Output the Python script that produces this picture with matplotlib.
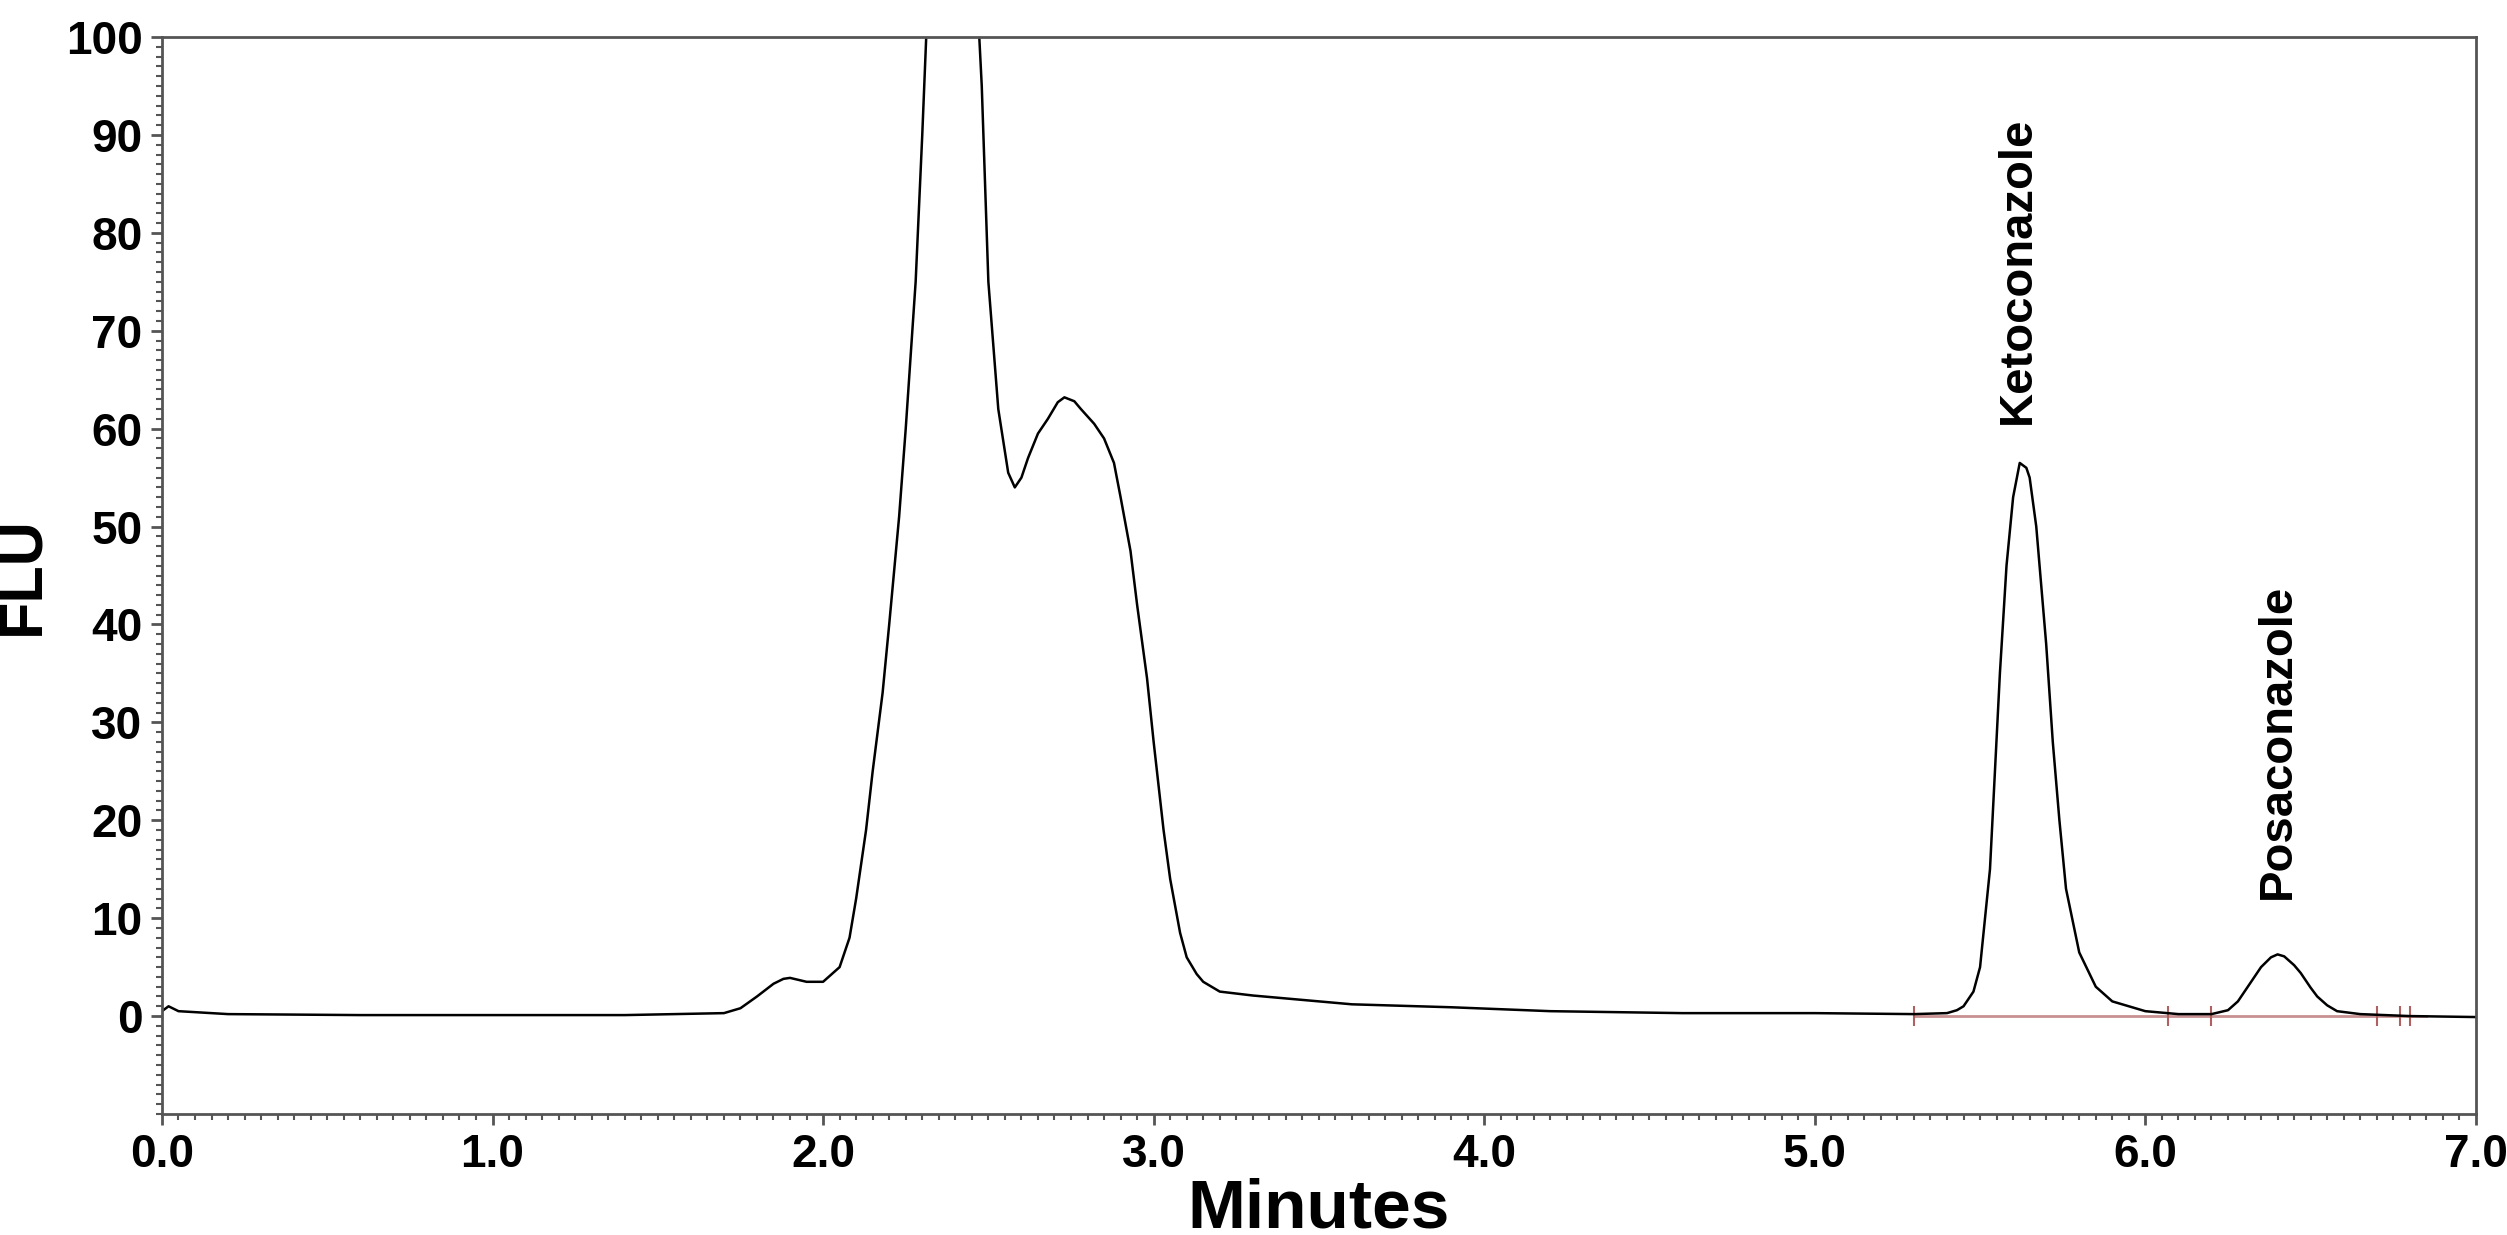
import matplotlib
matplotlib.use("Agg")
import matplotlib.pyplot as plt
from matplotlib.ticker import MultipleLocator

plt.rcParams['font.family'] = ['Liberation Sans', 'DejaVu Sans']

time_min = [0.0, 0.02, 0.05, 0.2, 0.6, 1.0, 1.4, 1.7, 1.75, 1.8, 1.85, 1.88, 1.9, 1.95, 2.0,
            2.05, 2.08, 2.1, 2.13, 2.15, 2.18, 2.2, 2.23, 2.25, 2.28, 2.3, 2.33, 2.45, 2.48,
            2.5, 2.53, 2.56, 2.58, 2.6, 2.62, 2.65, 2.68, 2.71, 2.73, 2.76, 2.78, 2.82,
            2.85, 2.88, 2.9, 2.93, 2.95, 2.98, 3.0, 3.03, 3.05, 3.08, 3.1, 3.13, 3.15,
            3.2, 3.3, 3.4, 3.6, 3.9, 4.2, 4.6, 5.0, 5.3, 5.4, 5.43, 5.45, 5.48, 5.5, 5.53,
            5.56, 5.58, 5.6, 5.62, 5.64, 5.65, 5.67, 5.68, 5.7, 5.72, 5.74, 5.76, 5.8,
            5.85, 5.9, 6.0, 6.1, 6.2, 6.25, 6.28, 6.3, 6.33, 6.35, 6.38, 6.4, 6.42, 6.45,
            6.47, 6.5, 6.52, 6.55, 6.58, 6.65, 6.8, 7.0]
flu = [0.5, 1.0, 0.5, 0.2, 0.1, 0.1, 0.1, 0.3, 0.8, 2.0, 3.3, 3.8, 3.9, 3.5, 3.5,
       5.0, 8.0, 12.0, 19.0, 25.0, 33.0, 40.0, 51.0, 60.0, 75.0, 90.0, 115.0, 115.0, 95.0,
       75.0, 62.0, 55.5, 54.0, 55.0, 57.0, 59.5, 61.0, 62.7, 63.2, 62.8, 62.0, 60.5,
       59.0, 56.5, 53.0, 47.5, 42.0, 34.5, 28.0, 19.0, 14.0, 8.5, 6.0, 4.3, 3.5,
       2.5, 2.1, 1.8, 1.2, 0.9, 0.5, 0.3, 0.3, 0.2, 0.3, 0.6, 1.0, 2.5, 5.0, 15.0,
       35.0, 46.0, 53.0, 56.5, 56.0, 55.0, 50.0, 46.0, 38.0, 28.0, 20.0, 13.0, 6.5,
       3.0, 1.5, 0.5, 0.2, 0.2, 0.6, 1.5, 2.5, 4.0, 5.0, 6.0, 6.3, 6.1, 5.2,
       4.4, 2.9, 2.0, 1.1, 0.5, 0.2, 0.0, -0.1]

baseline_x = [5.3, 6.85]
baseline_marks = [5.3, 6.07, 6.2, 6.7, 6.77, 6.8]
peak_names = ["Ketoconazole", "Posaconazole"]
peak_label_x = [5.615, 6.40]
peak_label_y = [60.5, 12.0]
x_ticks = [0, 1, 2, 3, 4, 5, 6, 7]

fig = plt.figure(figsize=(25.07, 12.35), dpi=100)
ax = fig.add_axes([0.0646, 0.098, 0.9230, 0.872])
ax.plot(baseline_x, [0, 0], color='#c89090', lw=2)
ax.plot(baseline_marks, [0]*len(baseline_marks), ls='none', marker='|', ms=14,
        mew=1.5, color='#b06060')
ax.plot(time_min, flu, color='black', lw=1.8)
for name, x, y in zip(peak_names, peak_label_x, peak_label_y):
    ax.text(x, y, name, rotation=90, ha='center', va='bottom', fontsize=34,
            fontweight='bold')

ax.set_xlim(0, 7)
ax.set_ylim(-10, 100)
ax.set_xticks(x_ticks)
ax.set_xticklabels([f"{v:.1f}" for v in x_ticks])
ax.xaxis.set_minor_locator(MultipleLocator(0.05))
ax.set_yticks(range(0, 101, 10))
ax.yaxis.set_minor_locator(MultipleLocator(1))
for sp in ax.spines.values():
    sp.set_color('#555555')
    sp.set_linewidth(2)
ax.tick_params(which='major', length=8, width=2, color='#555555', labelsize=33, pad=6)
ax.tick_params(which='minor', length=4, width=1.5, color='#555555')
for lab in ax.get_xticklabels() + ax.get_yticklabels():
    lab.set_fontweight('bold')
ax.set_xlabel("Minutes", fontsize=50, fontweight='bold', labelpad=0)
ax.set_ylabel("FLU", fontsize=44, fontweight='bold', labelpad=10)
fig.savefig("out.png", dpi=100)
